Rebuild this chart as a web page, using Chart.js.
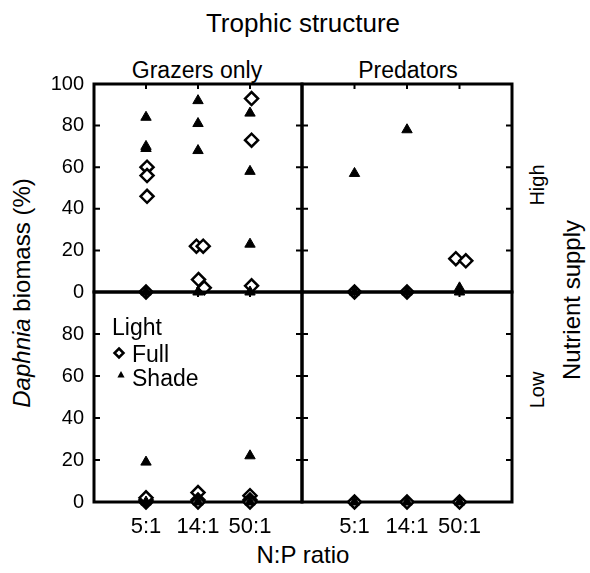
<!DOCTYPE html>
<html>
<head>
<meta charset="utf-8">
<script src="https://cdn.jsdelivr.net/npm/chart.js@4.4.1/dist/chart.umd.min.js"></script>
<style>
  body { margin: 0; width: 590px; height: 573px; position: relative; background: #fff; overflow: hidden;
         font-family: "Liberation Sans", Arial, sans-serif; color: #000; }
  .lbl { position: absolute; white-space: nowrap; line-height: 1; transform: translate(-50%, -50%); }
  .rot { transform: translate(-50%, -50%) rotate(-90deg); }
  canvas { position: absolute; }
</style>
</head>
<body>
<div class="lbl" style="left:303px;top:23px;font-size:26px">Trophic structure</div>
<div class="lbl" style="left:197px;top:70px;font-size:23px">Grazers only</div>
<div class="lbl" style="left:408px;top:70px;font-size:23px">Predators</div>
<div class="lbl rot" style="left:22px;top:293px;font-size:24px"><i>Daphnia</i> biomass (%)</div>
<div class="lbl rot" style="left:537px;top:185px;font-size:20px">High</div>
<div class="lbl rot" style="left:537px;top:390px;font-size:20px">Low</div>
<div class="lbl rot" style="left:572px;top:300px;font-size:24px">Nutrient supply</div>
<div class="lbl" style="left:303px;top:555px;font-size:24px">N:P ratio</div>

<canvas id="tl" width="284" height="232" style="left:30px;top:72px"></canvas>
<canvas id="tr" width="234" height="232" style="left:290px;top:72px"></canvas>
<canvas id="bl" width="284" height="267" style="left:30px;top:280px"></canvas>
<canvas id="br" width="234" height="267" style="left:290px;top:280px"></canvas>

<script>
// N:P ratio categories and axis ticks
const ratios = ['5:1', '14:1', '50:1'];
const yTicks = [0, 20, 40, 60, 80, 100];

// Daphnia biomass (%), one inner list per N:P ratio
// grazers only, high nutrients
const grazHighFull = [[60, 56, 46, 0], [22, 22, 6, 2], [93, 73, 3]];
const grazHighShade = [[84, 70, 69, 0], [92, 81, 68, 0], [86, 58, 23, 0]];
// predators, high nutrients
const predHighFull = [[0], [0], [16, 15]];
const predHighShade = [[57, 0], [78, 0], [2, 0]];
// grazers only, low nutrients
const grazLowFull = [[0, 1, 2], [4.5, 1, 0], [3, 1, 0]];
const grazLowShade = [[19, 0], [0], [22, 0]];
// predators, low nutrients
const predLowFull = [[0], [0], [0]];
const predLowShade = [[0], [0], [0]];

// small sideways offsets the original uses for overlapping diamonds
const grazHighFullNudge = [[0.02, 0.02, 0.02, 0], [-0.03, 0.1, 0.01, 0.12], [0.03, 0.03, 0.03]];
const predHighFullNudge = [[0], [0], [-0.07, 0.12]];

function toPoints(values, nudge) {
  const pts = [];
  values.forEach((list, i) => {
    list.forEach((v, j) => {
      const dx = nudge ? nudge[i][j] : 0;
      pts.push({ x: i + 1 + dx, y: v });
    });
  });
  return pts;
}

const frame = {
  id: 'frame',
  beforeDatasetsDraw(chart) {
    const { ctx, chartArea: a } = chart;
    const x = chart.scales.x, y = chart.scales.y;
    ctx.save();
    ctx.strokeStyle = '#000';
    ctx.lineWidth = 3;
    ctx.strokeRect(a.left, a.top, a.right - a.left, a.bottom - a.top);
    ctx.lineWidth = 2;
    ctx.beginPath();
    yTicks.forEach(v => {
      const py = y.getPixelForValue(v);
      ctx.moveTo(a.left, py); ctx.lineTo(a.left + 6, py);
      ctx.moveTo(a.right, py); ctx.lineTo(a.right - 6, py);
    });
    [1, 2, 3].forEach(v => {
      const px = x.getPixelForValue(v);
      ctx.moveTo(px, a.top); ctx.lineTo(px, a.top + 5);
      ctx.moveTo(px, a.bottom); ctx.lineTo(px, a.bottom - 5);
    });
    ctx.stroke();
    ctx.restore();
  }
};

// legend drawn inside the lower-left panel
const lightLegend = {
  id: 'lightLegend',
  afterDraw(chart) {
    const { ctx, chartArea: a } = chart;
    const x0 = a.left, y0 = a.top;
    ctx.save();
    ctx.fillStyle = '#000';
    ctx.font = '23px "Liberation Sans", Arial, sans-serif';
    ctx.textBaseline = 'alphabetic';
    ctx.fillText('Light', x0 + 18, y0 + 43);
    ctx.fillText('Full', x0 + 38, y0 + 70);
    ctx.fillText('Shade', x0 + 38, y0 + 94);
    // diamond
    const dx = x0 + 25, dy = y0 + 61, r = 4.5;
    ctx.beginPath();
    ctx.moveTo(dx, dy - r); ctx.lineTo(dx + r, dy); ctx.lineTo(dx, dy + r); ctx.lineTo(dx - r, dy); ctx.closePath();
    ctx.fillStyle = '#fff'; ctx.fill();
    ctx.lineWidth = 2.5; ctx.strokeStyle = '#000'; ctx.stroke();
    // triangle
    const tx = x0 + 27, ty = y0 + 83, t = 4;
    ctx.beginPath();
    ctx.moveTo(tx, ty - t); ctx.lineTo(tx + t * 0.9, ty + t * 0.6); ctx.lineTo(tx - t * 0.9, ty + t * 0.6); ctx.closePath();
    ctx.fillStyle = '#000'; ctx.fill();
    ctx.restore();
  }
};

function makePanel(id, full, shade, opt) {
  const font = '"Liberation Sans", Arial, sans-serif';
  return new Chart(document.getElementById(id), {
    type: 'scatter',
    data: {
      datasets: [
        {
          label: 'Shade', data: shade, pointStyle: 'triangle', radius: 6,
          backgroundColor: '#000', borderColor: '#000', borderWidth: 1, clip: false
        },
        {
          label: 'Full', data: full, pointStyle: 'rectRot', radius: 6.5,
          backgroundColor: '#fff', borderColor: '#000', borderWidth: 2.5, clip: false
        }
      ]
    },
    options: {
      responsive: false,
      animation: false,
      events: [],
      layout: { padding: opt.padding },
      plugins: { legend: { display: false }, tooltip: { enabled: false } },
      scales: {
        x: {
          type: 'linear', min: 0, max: 4,
          display: opt.showX,
          grid: { display: false, drawTicks: false },
          border: { display: false },
          afterBuildTicks: s => { s.ticks = [1, 2, 3].map(v => ({ value: v })); },
          afterFit: s => {
            if (opt.showX) { s.height = 45; } else { s.height = 0; }
            s.paddingLeft = 0; s.paddingRight = 0;
          },
          ticks: {
            autoSkip: false, maxRotation: 0, padding: 12, color: '#000',
            font: { family: font, size: 22 },
            callback: v => ratios[v - 1]
          }
        },
        y: {
          min: 0, max: 100,
          display: opt.showY,
          grid: { display: false, drawTicks: false },
          border: { display: false },
          afterFit: s => {
            if (opt.showY) { s.width = 64; } else { s.width = 0; }
            s.paddingTop = 0; s.paddingBottom = 0;
          },
          ticks: {
            stepSize: 20, padding: 10, color: '#000',
            font: { family: font, size: 20 },
            callback: v => (opt.hideTop && v === 100) ? '' : v
          }
        }
      }
    },
    plugins: opt.legend ? [frame, lightLegend] : [frame]
  });
}

makePanel('tl', toPoints(grazHighFull, grazHighFullNudge), toPoints(grazHighShade),
  { showX: false, showY: true, padding: { left: 0, right: 12, top: 12, bottom: 12 } });
makePanel('tr', toPoints(predHighFull, predHighFullNudge), toPoints(predHighShade),
  { showX: false, showY: false, padding: { left: 12, right: 12, top: 12, bottom: 12 } });
makePanel('bl', toPoints(grazLowFull), toPoints(grazLowShade),
  { showX: true, showY: true, hideTop: true, legend: true, padding: { left: 0, right: 12, top: 12, bottom: 0 } });
makePanel('br', toPoints(predLowFull), toPoints(predLowShade),
  { showX: true, showY: false, padding: { left: 12, right: 12, top: 12, bottom: 0 } });
</script>
</body>
</html>
